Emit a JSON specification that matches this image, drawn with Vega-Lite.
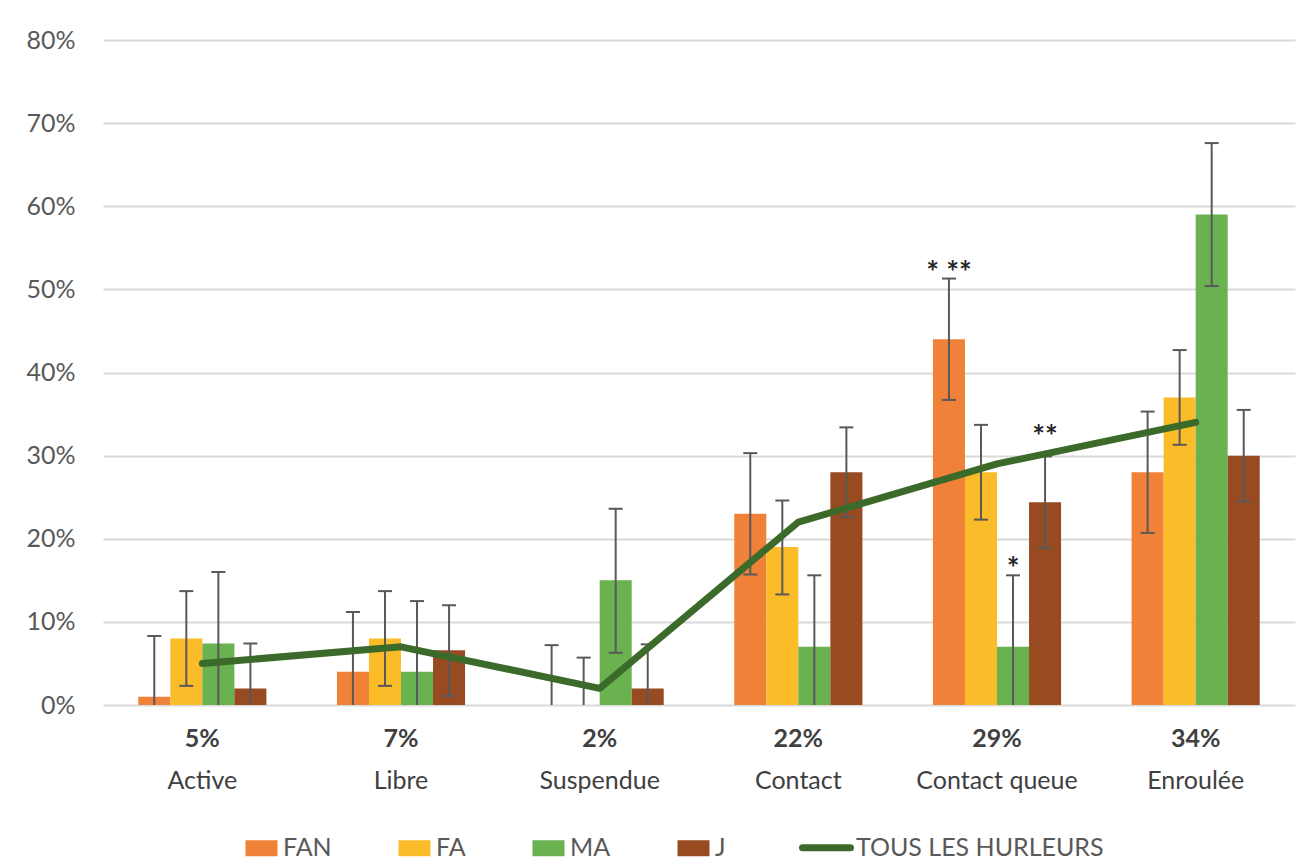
{
  "$schema": "https://vega.github.io/schema/vega-lite/v6.json",
  "width": 1192,
  "height": 665,
  "autosize": {"type": "none"},
  "padding": {"left": 103, "top": 40, "right": 7, "bottom": 157},
  "background": "white",
  "config": {
    "view": {"stroke": null},
    "font": "Lato",
    "axis": {"labelFont": "Lato", "labelColor": "#595959"},
    "legend": {"labelFont": "Lato"}
  },
  "datasets": {
    "bars": [
      {"category": "Active", "serie": "FAN", "value": 1, "lo": 0, "hi": 8.3},
      {"category": "Active", "serie": "FA", "value": 8, "lo": 2.3, "hi": 13.7},
      {"category": "Active", "serie": "MA", "value": 7.4, "lo": 0, "hi": 16},
      {"category": "Active", "serie": "J", "value": 2, "lo": 0, "hi": 7.4},
      {"category": "Libre", "serie": "FAN", "value": 4, "lo": 0, "hi": 11.2},
      {"category": "Libre", "serie": "FA", "value": 8, "lo": 2.3, "hi": 13.7},
      {"category": "Libre", "serie": "MA", "value": 4, "lo": 0, "hi": 12.5},
      {"category": "Libre", "serie": "J", "value": 6.6, "lo": 1.1, "hi": 12},
      {"category": "Suspendue", "serie": "FAN", "value": 0, "lo": 0, "hi": 7.2},
      {"category": "Suspendue", "serie": "FA", "value": 0, "lo": 0, "hi": 5.7},
      {"category": "Suspendue", "serie": "MA", "value": 15, "lo": 6.3, "hi": 23.6},
      {"category": "Suspendue", "serie": "J", "value": 2, "lo": 0, "hi": 7.3},
      {"category": "Contact", "serie": "FAN", "value": 23, "lo": 15.7, "hi": 30.3},
      {"category": "Contact", "serie": "FA", "value": 19, "lo": 13.3, "hi": 24.6},
      {"category": "Contact", "serie": "MA", "value": 7, "lo": 0, "hi": 15.6},
      {"category": "Contact", "serie": "J", "value": 28, "lo": 22.6, "hi": 33.4},
      {"category": "Contact queue", "serie": "FAN", "value": 44, "lo": 36.7, "hi": 51.3},
      {"category": "Contact queue", "serie": "FA", "value": 28, "lo": 22.3, "hi": 33.7},
      {"category": "Contact queue", "serie": "MA", "value": 7, "lo": 0, "hi": 15.6},
      {"category": "Contact queue", "serie": "J", "value": 24.4, "lo": 18.9, "hi": 29.9},
      {"category": "Enroulée", "serie": "FAN", "value": 28, "lo": 20.7, "hi": 35.3},
      {"category": "Enroulée", "serie": "FA", "value": 37, "lo": 31.3, "hi": 42.7},
      {"category": "Enroulée", "serie": "MA", "value": 59, "lo": 50.4, "hi": 67.6},
      {"category": "Enroulée", "serie": "J", "value": 30, "lo": 24.5, "hi": 35.5}
    ],
    "line": [
      {"category": "Active", "serie": "TOUS LES HURLEURS", "value": 5},
      {"category": "Libre", "serie": "TOUS LES HURLEURS", "value": 7},
      {"category": "Suspendue", "serie": "TOUS LES HURLEURS", "value": 2},
      {"category": "Contact", "serie": "TOUS LES HURLEURS", "value": 22},
      {"category": "Contact queue", "serie": "TOUS LES HURLEURS", "value": 29},
      {"category": "Enroulée", "serie": "TOUS LES HURLEURS", "value": 34}
    ],
    "notes": [
      {"category": "Contact queue", "serie": "FAN", "value": 51.8, "label": "* **"},
      {"category": "Contact queue", "serie": "MA", "value": 16.2, "label": "*"},
      {"category": "Contact queue", "serie": "J", "value": 32.1, "label": "**"}
    ]
  },
  "resolve": {"axis": {"x": "independent"}},
  "layer": [
    {
      "data": {"name": "bars"},
      "mark": {"type": "bar"},
      "encoding": {
        "x": {
          "field": "category", "type": "nominal",
          "sort": ["Active", "Libre", "Suspendue", "Contact", "Contact queue", "Enroulée"],
          "scale": {"paddingInner": 0.355, "paddingOuter": 0.1775},
          "axis": {
            "orient": "bottom", "title": null, "domain": false, "ticks": false,
            "labelAngle": 0, "labelFontSize": 25, "labelFontWeight": "bold", "labelColor": "#404040",
            "labelPadding": 21,
            "labelExpr": "{'Active':'5%','Libre':'7%','Suspendue':'2%','Contact':'22%','Contact queue':'29%','Enroulée':'34%'}[datum.value]"
          }
        },
        "xOffset": {
          "field": "serie", "type": "nominal",
          "sort": ["FAN", "FA", "MA", "J"],
          "scale": {"paddingInner": 0, "paddingOuter": 0}
        },
        "y": {
          "field": "value", "type": "quantitative",
          "scale": {"domain": [0, 80], "nice": false},
          "axis": {
            "title": null, "values": [0, 10, 20, 30, 40, 50, 60, 70, 80],
            "domain": false, "ticks": false, "grid": true, "gridColor": "#d9d9d9", "gridWidth": 2,
            "labelFontSize": 25, "labelColor": "#595959", "labelPadding": 28,
            "labelExpr": "datum.value + '%'"
          }
        },
        "color": {
          "field": "serie", "type": "nominal",
          "scale": {
            "domain": ["FAN", "FA", "MA", "J", "TOUS LES HURLEURS"],
            "range": ["#EF8138", "#FBBC2A", "#6AB150", "#984A20", "#3B6A2A"]
          },
          "legend": {
            "title": null, "orient": "none", "direction": "horizontal",
            "legendX": 138, "legendY": 795,
            "labelFontSize": 25, "labelColor": "#595959", "labelOffset": 17, "labelLimit": 400,
            "columnPadding": 62, "symbolSize": 2304,
            "encode": {
              "symbols": {
                "update": {
                  "shape": {"signal": "datum.value === 'TOUS LES HURLEURS' ? 'stroke' : 'M-0.333,-0.333H1V0.333H-0.333Z'"},
                  "size": {"value": 2304},
                  "strokeWidth": {"signal": "datum.value === 'TOUS LES HURLEURS' ? 7 : 0"},
                  "strokeCap": {"value": "round"},
                  "stroke": {"signal": "scale('color', datum.value)"},
                  "fill": {"signal": "datum.value === 'TOUS LES HURLEURS' ? 'transparent' : scale('color', datum.value)"},
                  "opacity": {"value": 1}
                }
              }
            }
          }
        }
      }
    },
    {
      "data": {"name": "bars"},
      "mark": {"type": "rule", "color": "#595959", "strokeWidth": 2},
      "encoding": {
        "x": {"field": "category", "type": "nominal", "sort": ["Active", "Libre", "Suspendue", "Contact", "Contact queue", "Enroulée"], "axis": null},
        "xOffset": {"field": "serie", "type": "nominal", "sort": ["FAN", "FA", "MA", "J"]},
        "y": {"field": "lo", "type": "quantitative"},
        "y2": {"field": "hi"}
      }
    },
    {
      "data": {"name": "bars"},
      "mark": {"type": "tick", "orient": "horizontal", "color": "#595959", "size": 14, "thickness": 2, "opacity": 1},
      "encoding": {
        "x": {"field": "category", "type": "nominal", "sort": ["Active", "Libre", "Suspendue", "Contact", "Contact queue", "Enroulée"], "axis": null},
        "xOffset": {"field": "serie", "type": "nominal", "sort": ["FAN", "FA", "MA", "J"]},
        "y": {"field": "hi", "type": "quantitative"}
      }
    },
    {
      "data": {"name": "bars"},
      "transform": [{"filter": "datum.lo > 0"}],
      "mark": {"type": "tick", "orient": "horizontal", "color": "#595959", "size": 14, "thickness": 2, "opacity": 1},
      "encoding": {
        "x": {"field": "category", "type": "nominal", "sort": ["Active", "Libre", "Suspendue", "Contact", "Contact queue", "Enroulée"], "axis": null},
        "xOffset": {"field": "serie", "type": "nominal", "sort": ["FAN", "FA", "MA", "J"]},
        "y": {"field": "lo", "type": "quantitative"}
      }
    },
    {
      "data": {"name": "line"},
      "mark": {"type": "line", "strokeWidth": 7, "strokeCap": "round", "strokeJoin": "round"},
      "encoding": {
        "x": {
          "field": "category", "type": "nominal",
          "sort": ["Active", "Libre", "Suspendue", "Contact", "Contact queue", "Enroulée"],
          "axis": {
            "orient": "bottom", "title": null, "domain": false, "ticks": false,
            "labelAngle": 0, "labelFontSize": 25, "labelColor": "#404040",
            "labelPadding": 63
          }
        },
        "y": {"field": "value", "type": "quantitative"},
        "color": {"field": "serie", "type": "nominal"}
      }
    },
    {
      "data": {"name": "notes"},
      "mark": {"type": "text", "fontSize": 30, "fontWeight": "bold", "color": "#262626", "baseline": "middle"},
      "encoding": {
        "x": {"field": "category", "type": "nominal", "sort": ["Active", "Libre", "Suspendue", "Contact", "Contact queue", "Enroulée"], "axis": null},
        "xOffset": {"field": "serie", "type": "nominal", "sort": ["FAN", "FA", "MA", "J"]},
        "y": {"field": "value", "type": "quantitative"},
        "text": {"field": "label"}
      }
    }
  ]
}
